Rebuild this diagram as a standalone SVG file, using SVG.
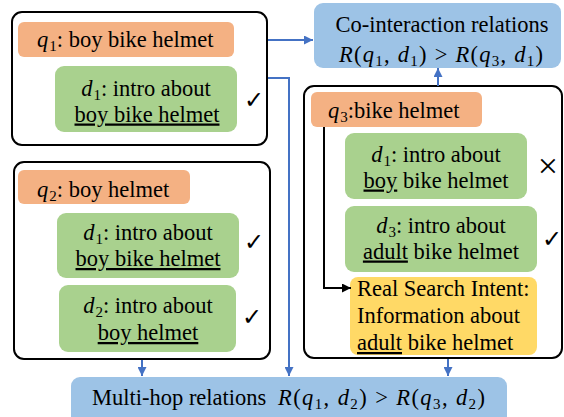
<svg xmlns="http://www.w3.org/2000/svg" width="564" height="417" viewBox="0 0 564 417" font-family="'Liberation Serif','Times New Roman',serif">
<style>
text{font-family:'Liberation Serif','Times New Roman',serif;font-size:22.5px;fill:#000}
.i{font-style:italic}
.sub{font-size:15px}
.u{text-decoration:underline}
.c{text-anchor:middle}
.outer{fill:#fff;stroke:#000;stroke-width:2}
.q{fill:#F4B183}
.d{fill:#A9D18E}
.rel{fill:#9DC3E6}
.y{fill:#FFD966}
.blue{fill:none;stroke:#4472C4;stroke-width:2}
.blk{fill:none;stroke:#000;stroke-width:2}
.mk{font-family:'DejaVu Sans',sans-serif;font-size:24px}
</style>
<defs>
<marker id="ab" viewBox="0 0 10 10" refX="10" refY="5" markerWidth="9" markerHeight="9" markerUnits="userSpaceOnUse" orient="auto"><path d="M0,0L10,5L0,10z" fill="#4472C4"/></marker>
<marker id="ak" viewBox="0 0 10 10" refX="10" refY="5" markerWidth="9" markerHeight="9" markerUnits="userSpaceOnUse" orient="auto"><path d="M0,0L10,5L0,10z" fill="#000"/></marker>
</defs>

<g id="group-q1-frame"><rect class="outer" x="12" y="12" width="255" height="133" rx="10"/></g>
<g id="group-q2-frame"><rect class="outer" x="14" y="162" width="256" height="197" rx="10"/></g>
<g id="group-q3-frame"><rect class="outer" x="304" y="86" width="258" height="272" rx="10"/></g>

<g id="q1">
<rect class="q" x="18" y="22" width="216" height="35" rx="6"/>
<text x="37" y="47"><tspan class="i">q</tspan><tspan class="sub" dx="1" dy="4">1</tspan><tspan dy="-4">: boy bike helmet</tspan></text>
</g>
<g id="q1-d1">
<rect class="d" x="55" y="66" width="182" height="66" rx="9"/>
<text class="c" x="146" y="95.5"><tspan class="i">d</tspan><tspan class="sub" dx="1" dy="4">1</tspan><tspan dy="-4">: intro about</tspan></text>
<text class="c u" x="147" y="121.5">boy bike helmet</text>
<text class="mk" x="244" y="108">✓</text>
</g>

<g id="q2">
<rect class="q" x="18" y="170" width="172" height="34" rx="6"/>
<text x="37" y="197"><tspan class="i">q</tspan><tspan class="sub" dx="1" dy="4">2</tspan><tspan dy="-4">: boy helmet</tspan></text>
</g>
<g id="q2-d1">
<rect class="d" x="57" y="213" width="182" height="65" rx="9"/>
<text class="c" x="148" y="240"><tspan class="i">d</tspan><tspan class="sub" dx="1" dy="4">1</tspan><tspan dy="-4">: intro about</tspan></text>
<text class="c u" x="148" y="266">boy bike helmet</text>
<text class="mk" x="244" y="250">✓</text>
</g>
<g id="q2-d2">
<rect class="d" x="59" y="285" width="177" height="67" rx="9"/>
<text class="c" x="148" y="313"><tspan class="i">d</tspan><tspan class="sub" dx="1" dy="4">2</tspan><tspan dy="-4">: intro about</tspan></text>
<text class="c u" x="148" y="340">boy helmet</text>
<text class="mk" x="242" y="325">✓</text>
</g>

<g id="q3">
<rect class="q" x="311" y="92" width="171" height="35" rx="6"/>
<text x="328" y="118"><tspan class="i">q</tspan><tspan class="sub" dx="1" dy="4">3</tspan><tspan dy="-4">:bike helmet</tspan></text>
</g>
<g id="q3-d1">
<rect class="d" x="345" y="133" width="182" height="66" rx="9"/>
<text class="c" x="436" y="161.5"><tspan class="i">d</tspan><tspan class="sub" dx="1" dy="4">1</tspan><tspan dy="-4">: intro about</tspan></text>
<text class="c" x="436" y="187.5"><tspan class="u">boy</tspan> bike helmet</text>
<text x="548" y="178" style="font-size:36px;text-anchor:middle">×</text>
</g>
<g id="q3-d3">
<rect class="d" x="345" y="206" width="192" height="66" rx="9"/>
<text class="c" x="441" y="232.5"><tspan class="i">d</tspan><tspan class="sub" dx="1" dy="4">3</tspan><tspan dy="-4">: intro about</tspan></text>
<text class="c" x="441" y="258.5"><tspan class="u">adult</tspan> bike helmet</text>
<text class="mk" x="542" y="247">✓</text>
</g>
<g id="intent">
<rect class="y" x="350" y="277" width="187" height="78" rx="8"/>
<text x="357" y="296">Real Search Intent:</text>
<text x="357" y="323">Information about</text>
<text x="357" y="350"><tspan class="u">adult</tspan> bike helmet</text>
</g>

<g id="co-interaction">
<rect class="rel" x="314" y="3" width="247" height="65" rx="9"/>
<text class="c" x="442" y="32">Co-interaction relations</text>
<text x="339" y="62" textLength="204" lengthAdjust="spacing"><tspan class="i">R</tspan>(<tspan class="i">q</tspan><tspan class="sub" dy="4">1</tspan><tspan dy="-4">, </tspan><tspan class="i">d</tspan><tspan class="sub" dy="4">1</tspan><tspan dy="-4">) &gt; </tspan><tspan class="i">R</tspan>(<tspan class="i">q</tspan><tspan class="sub" dy="4">3</tspan><tspan dy="-4">, </tspan><tspan class="i">d</tspan><tspan class="sub" dy="4">1</tspan><tspan dy="-4">)</tspan></text>
</g>

<g id="multi-hop">
<rect class="rel" x="71" y="377" width="436" height="50" rx="9"/>
<text x="92" y="405">Multi-hop relations</text>
<text x="278" y="405" textLength="207" lengthAdjust="spacing"><tspan class="i">R</tspan>(<tspan class="i">q</tspan><tspan class="sub" dy="4">1</tspan><tspan dy="-4">, </tspan><tspan class="i">d</tspan><tspan class="sub" dy="4">2</tspan><tspan dy="-4">) &gt; </tspan><tspan class="i">R</tspan>(<tspan class="i">q</tspan><tspan class="sub" dy="4">3</tspan><tspan dy="-4">, </tspan><tspan class="i">d</tspan><tspan class="sub" dy="4">2</tspan><tspan dy="-4">)</tspan></text>
</g>

<g id="connectors">
<path class="blue" d="M268,40H313" marker-end="url(#ab)"/>
<path class="blue" d="M268,78H289V376" marker-end="url(#ab)"/>
<path class="blue" d="M142,360V376" marker-end="url(#ab)"/>
<path class="blue" d="M448,359V376" marker-end="url(#ab)"/>
<path class="blue" d="M438,86V68" marker-end="url(#ab)"/>
<path class="blk" d="M324,127V288H351" marker-end="url(#ak)"/>
</g>
</svg>
